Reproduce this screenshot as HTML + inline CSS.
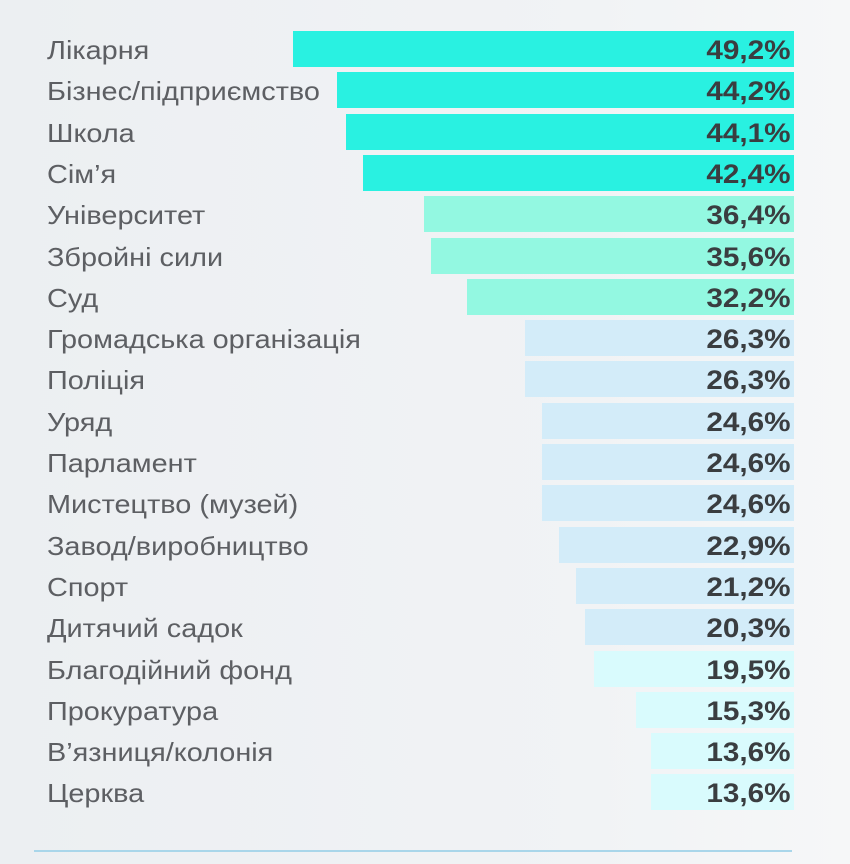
<!DOCTYPE html>
<html><head><meta charset="utf-8"><style>
html,body{margin:0;padding:0}
body{width:850px;height:864px;overflow:hidden;background:linear-gradient(90deg,#eceff2 0%,#f1f3f5 70%,#f6f7f8 100%);font-family:"Liberation Sans","DejaVu Sans",sans-serif;position:relative}
.r{position:absolute;left:0;width:850px;height:36px}
.b{position:absolute;top:0;height:36px;right:56px}
.l{position:absolute;left:47px;top:4px;font-size:26px;transform:scaleX(1.11);transform-origin:0 0;color:#5d5f63;line-height:30px;white-space:nowrap}
.v{position:absolute;right:59px;top:4px;font-size:27px;transform:scaleX(1.1);transform-origin:100% 0;font-weight:bold;color:#3a3d40;line-height:30px}
.line{position:absolute;left:34px;top:850px;width:758px;height:2px;background:#a9d6ea}
</style></head><body>
<div class="r" style="top:31px"><div class="b" style="left:293px;background:#29f1e1"></div><div class="l">Лікарня</div><div class="v">49,2%</div></div>
<div class="r" style="top:72.3px"><div class="b" style="left:337px;background:#29f1e1"></div><div class="l">Бізнес/підприємство</div><div class="v">44,2%</div></div>
<div class="r" style="top:113.6px"><div class="b" style="left:346px;background:#29f1e1"></div><div class="l">Школа</div><div class="v">44,1%</div></div>
<div class="r" style="top:154.9px"><div class="b" style="left:363px;background:#29f1e1"></div><div class="l">Сім’я</div><div class="v">42,4%</div></div>
<div class="r" style="top:196.2px"><div class="b" style="left:424px;background:#93f8e1"></div><div class="l">Університет</div><div class="v">36,4%</div></div>
<div class="r" style="top:237.5px"><div class="b" style="left:431px;background:#93f8e1"></div><div class="l">Збройні сили</div><div class="v">35,6%</div></div>
<div class="r" style="top:278.8px"><div class="b" style="left:467px;background:#93f8e1"></div><div class="l">Суд</div><div class="v">32,2%</div></div>
<div class="r" style="top:320.1px"><div class="b" style="left:525px;background:#d3ecf9"></div><div class="l">Громадська організація</div><div class="v">26,3%</div></div>
<div class="r" style="top:361.4px"><div class="b" style="left:525px;background:#d3ecf9"></div><div class="l">Поліція</div><div class="v">26,3%</div></div>
<div class="r" style="top:402.7px"><div class="b" style="left:542px;background:#d3ecf9"></div><div class="l">Уряд</div><div class="v">24,6%</div></div>
<div class="r" style="top:444px"><div class="b" style="left:542px;background:#d3ecf9"></div><div class="l">Парламент</div><div class="v">24,6%</div></div>
<div class="r" style="top:485.3px"><div class="b" style="left:542px;background:#d3ecf9"></div><div class="l">Мистецтво (музей)</div><div class="v">24,6%</div></div>
<div class="r" style="top:526.6px"><div class="b" style="left:559px;background:#d3ecf9"></div><div class="l">Завод/виробництво</div><div class="v">22,9%</div></div>
<div class="r" style="top:567.9px"><div class="b" style="left:576px;background:#d3ecf9"></div><div class="l">Спорт</div><div class="v">21,2%</div></div>
<div class="r" style="top:609.2px"><div class="b" style="left:585px;background:#d3ecf9"></div><div class="l">Дитячий садок</div><div class="v">20,3%</div></div>
<div class="r" style="top:650.5px"><div class="b" style="left:594px;background:#d9fbfd"></div><div class="l">Благодійний фонд</div><div class="v">19,5%</div></div>
<div class="r" style="top:691.8px"><div class="b" style="left:636px;background:#d9fbfd"></div><div class="l">Прокуратура</div><div class="v">15,3%</div></div>
<div class="r" style="top:733.1px"><div class="b" style="left:651px;background:#d9fbfd"></div><div class="l">В’язниця/колонія</div><div class="v">13,6%</div></div>
<div class="r" style="top:774.4px"><div class="b" style="left:651px;background:#d9fbfd"></div><div class="l">Церква</div><div class="v">13,6%</div></div>
<div class="line"></div>
</body></html>
